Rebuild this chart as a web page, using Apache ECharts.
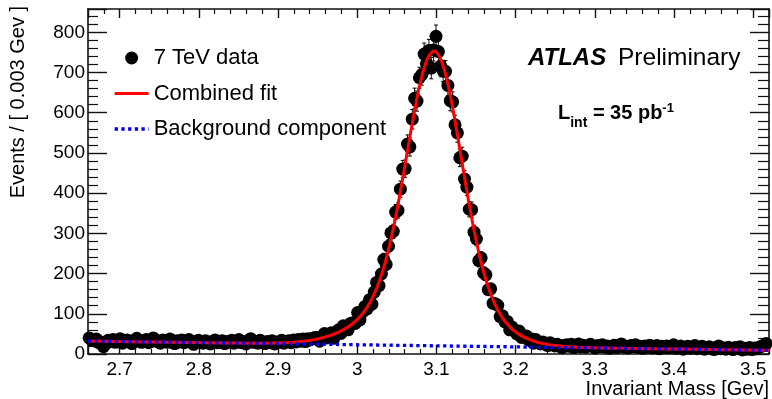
<!DOCTYPE html>
<html>
<head>
<meta charset="utf-8">
<script src="https://cdn.jsdelivr.net/npm/echarts@6/dist/echarts.min.js"></script>
<style>
html,body{margin:0;padding:0;background:#fff;}
#chart{width:772px;height:399px;}
</style>
</head>
<body>
<div id="chart"></div>
<script>
// ---- data ----
const binStart = 2.66;
const binWidth = 0.003;
// events per 0.003 GeV bin
const counts = [
40,35,33,37,28,30,18,26,34,31,36,29,33,38,27,31,35,30,26,34,
39,32,29,33,36,28,31,40,34,30,27,35,32,29,37,31,26,33,30,35,
28,32,36,29,24,31,34,30,27,33,29,25,32,35,28,30,33,26,31,29,
34,27,30,36,28,31,25,33,38,29,31,27,34,30,26,31,28,33,25,30,
29,34,27,31,33,28,35,30,36,32,37,31,38,35,39,41,
41,32,42,51,40,44,53,39,53,60,51,70,62,60,76,78,76,103,85,104,
118,112,135,124,154,178,170,199,235,223,268,301,305,353,357,410,460,461,522,515,
584,636,629,687,695,746,722,755,711,756,790,752,716,704,703,668,630,627,570,550,
488,492,435,415,360,359,303,286,232,239,202,197,160,162,126,125,121,93,95,80,
81,60,67,59,50,57,41,45,45,35,38,27,36,30,25,30,26,21,28,24,
20,24,22,16,21,
23,19,24,16,21,25,18,22,17,20,24,19,15,21,18,23,17,20,14,19,
22,16,20,25,17,19,15,21,18,23,16,19,14,20,17,22,15,18,21,13,
19,16,20,15,18,23,14,17,20,12,16,19,14,18,21,13,16,19,12,15,
18,14,11,17,20,13,15,12,17,14,11,16,13,18,10,14,12,16,11,15,
13,17,19,22,26
];
// combined fit curve
const fitX = [2.66,2.68,2.70,2.72,2.74,2.76,2.78,2.80,2.82,2.84,2.86,2.88,2.90,2.92,2.94,
2.95,2.955,2.96,2.965,2.97,2.975,2.98,2.985,2.99,2.995,3.00,3.005,3.01,3.015,3.02,3.025,3.03,3.035,3.04,3.045,3.05,3.055,3.06,3.065,3.07,3.075,3.08,3.085,3.09,3.095,3.097,3.10,3.105,3.11,3.115,3.12,3.125,3.13,3.135,3.14,3.145,3.15,3.155,3.16,3.165,3.17,3.175,3.18,3.185,3.19,3.195,3.20,3.205,3.21,3.215,3.22,3.225,3.23,3.235,3.24,3.245,3.25,
3.26,3.28,3.30,3.32,3.34,3.36,3.38,3.40,3.42,3.44,3.46,3.48,3.50,3.52];
const fitY = [32.0,31.5,30.9,30.4,29.9,29.4,28.8,28.3,27.8,27.3,26.9,27.0,27.4,29.3,33.7,
37.4,39.7,42.5,45.6,49.1,53.2,57.9,63.4,69.7,77.1,85.9,96.4,109.0,124.5,143.2,165.9,193.1,225.7,263.7,307.3,356.2,409.4,465.8,523.4,579.7,632.1,678.0,714.8,740.1,752.4,753.4,750.8,734.9,706.6,666.7,617.9,562.9,504.4,445.2,387.6,333.4,283.8,239.8,201.4,169.0,141.7,119.0,100.5,85.4,73.1,63.2,55.0,48.2,42.6,38.0,34.1,30.9,28.1,25.8,23.9,22.3,21.0,
18.9,16.6,15.3,14.6,14.0,13.5,12.9,12.4,11.9,11.3,10.8,10.3,9.7,9.2];
// background component (linear)
const bgX = [2.66, 3.52];
const bgY = [32.0, 9.2];

const yTicks = [0,100,200,300,400,500,600,700,800];

// ---- build ----
const pts = counts.map((n, i) => [binStart + (i + 0.5) * binWidth, n]);
const errs = counts.map((n, i) => [binStart + (i + 0.5) * binWidth, n, Math.sqrt(n)]);
const fitData = fitX.map((x, i) => [x, fitY[i]]);
const bgData = bgX.map((x, i) => [x, bgY[i]]);

const FONT = '"Liberation Sans", Arial, Helvetica, sans-serif';
const axisCol = '#111';

const chart = echarts.init(document.getElementById('chart'), null, {renderer: 'canvas'});
const xCommon = {
  type: 'value', min: 2.66, max: 3.52, splitNumber: 8,
  splitLine: {show: false},
  axisLine: {show: true, onZero: false, lineStyle: {color: axisCol, width: 1.6}},
  minorTick: {show: true, splitNumber: 5, length: 5, lineStyle: {color: axisCol, width: 1.2}},
  minorSplitLine: {show: false}
};
const yCommon = {
  type: 'value', min: 0, max: 858, interval: 100,
  splitLine: {show: false},
  axisLine: {show: true, onZero: false, lineStyle: {color: axisCol, width: 1.6}},
  minorTick: {show: true, splitNumber: 5, length: 10, lineStyle: {color: axisCol, width: 1.2}},
  minorSplitLine: {show: false}
};

chart.setOption({
  animation: false,
  backgroundColor: '#fff',
  textStyle: {fontFamily: FONT},
  grid: {left: 88, right: -1, top: 9, bottom: 45, containLabel: false},
  xAxis: [
    Object.assign({}, xCommon, {
      position: 'bottom',
      axisTick: {show: true, inside: true, length: 9, lineStyle: {color: axisCol, width: 1.4}},
      axisLabel: {show: true, fontSize: 19, color: '#000', margin: 6, fontFamily: FONT,
        showMinLabel: false, showMaxLabel: false,
        formatter: v => (Math.abs(v - Math.round(v)) < 1e-9 ? String(Math.round(v)) : (+v.toFixed(2)).toString())},
      name: 'Invariant Mass [Gev]', nameLocation: 'end', nameGap: 0,
      nameTextStyle: {fontSize: 20, color: '#000', align: 'right', verticalAlign: 'top', padding: [25, 0, 0, 0], fontFamily: FONT}
    }),
    Object.assign({}, xCommon, {
      position: 'top',
      axisTick: {show: true, inside: true, length: 9, lineStyle: {color: axisCol, width: 1.4}},
      axisLabel: {show: false}
    })
  ],
  yAxis: [
    Object.assign({}, yCommon, {
      position: 'left',
      axisTick: {show: true, inside: true, length: 19, lineStyle: {color: axisCol, width: 1.4}},
      axisLabel: {show: true, fontSize: 19, color: '#000', margin: 3, fontFamily: FONT,
        showMaxLabel: false, formatter: v => (yTicks.indexOf(v) >= 0 ? String(v) : '')}
    }),
    Object.assign({}, yCommon, {
      position: 'right',
      axisTick: {show: true, inside: true, length: 19, lineStyle: {color: axisCol, width: 1.4}},
      minorTick: {show: true, splitNumber: 5, length: 11, lineStyle: {color: axisCol, width: 1.2}},
      axisLabel: {show: false}
    })
  ],
  legend: {
    orient: 'vertical', left: 113, top: 47, itemGap: 13.5, padding: 0,
    itemWidth: 34, itemHeight: 13,
    textStyle: {fontSize: 22, color: '#000', fontFamily: FONT, padding: [0, 0, 0, 0]},
    data: [
      {name: '7 TeV data', icon: 'circle', itemStyle: {color: '#000', opacity: 1}},
      {name: 'Combined fit', itemStyle: {opacity: 0}, lineStyle: {color: '#ff0000', width: 3}},
      {name: 'Background component', itemStyle: {opacity: 0}, lineStyle: {color: '#0000ff', width: 3.3, type: [3.3, 3.4]}}
    ],
    selectedMode: false
  },
  graphic: [
    {type: 'text', x: 18, y: 6, rotation: Math.PI / 2,
      style: {text: 'Events / [ 0.003 Gev ]', font: '20px ' + FONT, fill: '#000', align: 'right', verticalAlign: 'middle'}},
    {type: 'text', x: 528, y: 58,
      style: {text: 'ATLAS', font: 'italic bold 24px ' + FONT, fill: '#000', align: 'left', verticalAlign: 'middle'}},
    {type: 'text', x: 618, y: 58,
      style: {text: 'Preliminary', font: '24.5px ' + FONT, fill: '#000', align: 'left', verticalAlign: 'middle'}},
    {type: 'text', x: 558, y: 96,
      style: {
        text: '{b|L}{sub|int}{b| = 35 pb}{sup|-1}',
        fill: '#000',
        rich: {
          b: {fontSize: 20, fontWeight: 'bold', fontFamily: FONT, lineHeight: 34, verticalAlign: 'middle'},
          sub: {fontSize: 14, fontWeight: 'bold', fontFamily: FONT, lineHeight: 14, verticalAlign: 'bottom'},
          sup: {fontSize: 13, fontWeight: 'bold', fontFamily: FONT, lineHeight: 13, verticalAlign: 'top', padding: [6, 0, 0, 0]}
        }
      }}
  ],
  series: [
    {
      name: '7 TeV data', type: 'scatter', data: pts, symbol: 'circle', symbolSize: 13,
      itemStyle: {color: '#000', opacity: 1}, xAxisIndex: 0, yAxisIndex: 0, z: 2
    },
    {
      name: 'errors', type: 'custom', data: errs, xAxisIndex: 0, yAxisIndex: 0, z: 3,
      renderItem: function (params, api) {
        const x = api.value(0), y = api.value(1), e = api.value(2);
        const t = api.coord([x, y + e]);
        const b = api.coord([x, y - e]);
        const st = {stroke: '#000', lineWidth: 1};
        return {type: 'group', children: [
          {type: 'line', shape: {x1: t[0], y1: t[1], x2: b[0], y2: b[1]}, style: st},
          {type: 'line', shape: {x1: t[0] - 2, y1: t[1], x2: t[0] + 2, y2: t[1]}, style: st},
          {type: 'line', shape: {x1: b[0] - 2, y1: b[1], x2: b[0] + 2, y2: b[1]}, style: st}
        ]};
      }
    },
    {
      name: 'Combined fit', type: 'line', data: fitData, showSymbol: false, symbol: 'none', smooth: 0.2,
      lineStyle: {color: '#ff0000', width: 3}, itemStyle: {color: '#ff0000'}, z: 4
    },
    {
      name: 'Background component', type: 'line', data: bgData, showSymbol: false, symbol: 'none',
      lineStyle: {color: '#0000ff', width: 3.3, type: [3.3, 3.4], cap: 'butt'}, itemStyle: {color: '#0000ff'}, z: 5
    }
  ]
});
</script>
</body>
</html>
